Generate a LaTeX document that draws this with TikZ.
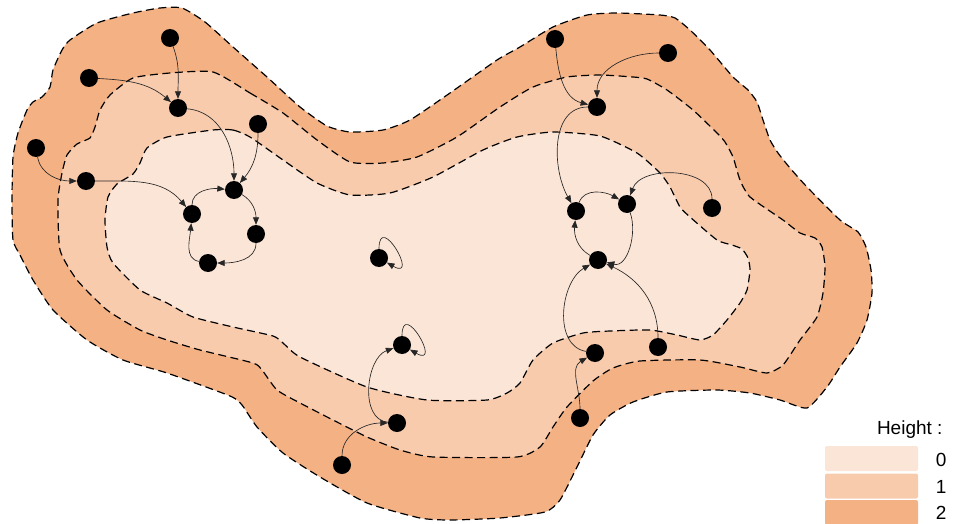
\documentclass[tikz,border=0pt]{standalone}
\usepackage{fontspec}
\setmainfont{Liberation Sans}
\usetikzlibrary{arrows.meta}
\definecolor{peach}{RGB}{251,229,214}
\definecolor{apricot}{RGB}{248,203,173}
\definecolor{copper}{RGB}{244,177,131}
\tikzset{
  >={Triangle[length=7.5pt,width=6pt]},
  dot/.style={circle,fill=black,inner sep=0pt,minimum size=18pt},
  flow/.style={->,line width=0.65pt,draw=black!85},
  self/.style={flow,out=90,in=-30,min distance=38pt},
  zone/.style={fill=#1,draw=black,line width=1.2pt,dash pattern=on 8pt off 4.5pt},
  key/.style={fill=#1,rounded corners=2pt,minimum width=93pt,minimum height=25pt,inner sep=0pt},
  lbl/.style={font=\fontsize{19}{19}\selectfont,anchor=east},
}

\begin{document}
\begin{tikzpicture}[x=1pt,y=1pt]
  \useasboundingbox (0,0) rectangle (955,-524);
  % height zones
  \draw[zone=copper] plot[smooth cycle,tension=0.35] coordinates {
    (182,-8) (205,-22) (233,-47) (267,-77) (300,-107) (327,-126) (350,-132) (383,-130)
    (410,-120) (450,-93) (497,-60) (520,-47) (553,-27) (587,-15) (617,-13) (660,-15)
    (675,-18) (690,-30) (710,-50) (733,-77) (748,-90) (757,-102) (763,-120) (770,-140)
    (778,-153) (790,-168) (807,-187) (840,-220) (858,-232) (866,-247) (871,-270) (872,-293)
    (867,-320) (857,-343) (840,-367) (827,-387) (807,-408) (780,-400) (750,-393) (717,-390)
    (667,-392) (633,-402) (610,-415) (593,-435) (577,-467) (560,-500) (545,-512) (500,-518)
    (450,-520) (420,-518) (367,-503) (320,-477) (283,-453) (257,-427) (242,-405) (230,-396)
    (167,-373) (123,-360) (87,-340) (53,-310) (33,-280) (20,-255) (13,-240) (12,-200)
    (13,-157) (18,-133) (27,-110) (33,-102) (42,-97) (50,-87) (53,-70) (62,-50)
    (70,-40) (97,-23) (133,-13) (160,-8)};
  \draw[zone=apricot] plot[smooth cycle,tension=0.35] coordinates {
    (213,-72) (250,-93) (283,-113) (317,-140) (350,-162) (383,-163) (417,-157) (457,-137)
    (500,-107) (533,-87) (567,-77) (600,-75) (633,-77) (647,-79) (667,-90) (693,-110)
    (717,-133) (725,-142) (733,-157) (740,-180) (750,-197) (783,-220) (800,-233) (815,-238)
    (822,-247) (825,-267) (823,-293) (817,-317) (800,-340) (783,-365) (767,-373) (740,-367)
    (700,-360) (640,-361) (613,-368) (593,-381) (567,-407) (553,-427) (540,-447) (517,-457)
    (433,-457) (400,-450) (367,-437) (333,-420) (300,-403) (277,-390) (262,-370) (253,-363)
    (200,-350) (167,-340) (140,-330) (107,-310) (77,-280) (60,-250) (58,-200) (62,-173)
    (67,-155) (77,-144) (90,-138) (95,-127) (100,-110) (110,-95) (133,-78) (170,-73)};
  \draw[zone=peach] plot[smooth cycle,tension=0.35] coordinates {
    (213,-130) (233,-130) (250,-137) (283,-160) (317,-183) (350,-195) (390,-193) (433,-177)
    (483,-150) (517,-137) (553,-132) (600,-136) (637,-153) (660,-173) (670,-187) (680,-207)
    (690,-217) (717,-240) (732,-245) (742,-249) (748,-258) (750,-270) (747,-290) (740,-303)
    (727,-320) (713,-335) (700,-340) (677,-335) (650,-330) (610,-331) (583,-333) (553,-343)
    (533,-360) (520,-383) (507,-393) (487,-400) (427,-400) (367,-387) (300,-357) (283,-343)
    (273,-336) (233,-327) (193,-317) (167,-303) (140,-290) (113,-263) (107,-247) (105,-220)
    (108,-197) (117,-184) (133,-174) (140,-163) (147,-148) (167,-137)};
  % cells
  \foreach \n/\x/\y in {a1/170/38,a2/89/78,a3/178/108,a4/258/124,a5/36/148,a6/86/181,
      a7/234/190,a8/192/214,a9/256/234,a10/208/263,
      c1/379/258,c2/402/345,c3/397/423,c4/342/465,
      r1/555/39,r2/668/53,r3/597/107,r4/576/211,r5/627/204,r6/712/208,
      r7/598/260,r8/595/353,r9/658/347,r10/580/418}
    \node[dot] (\n) at (\x,-\y) {};
  % left basin
  \draw[flow] (a1) to[out=-70,in=90] (a3);
  \draw[flow] (a2) to[out=-3,in=140] (a3);
  \draw[flow] (a3) to[out=-5,in=90] (a7);
  \draw[flow] (a4) to[out=-90,in=50] (a7);
  \draw[flow] (a5) to[out=-80,in=180] (a6);
  \draw[flow] (a6) to[out=0,in=130] (a8);
  \draw[flow] (a8) to[out=90,in=175] (a7);
  \draw[flow] (a7) to[out=-30,in=90] (a9);
  \draw[flow] (a9) to[out=-90,in=0] (a10);
  \draw[flow] (a10) to[out=170,in=-95] (a8);
  % middle
  \draw[self] (c1) to (c1);
  \draw[self] (c2) to (c2);
  \draw[flow] (c3) to[out=175,in=200] (c2);
  \draw[flow] (c4) to[out=90,in=180] (c3);
  % right basin
  \draw[flow] (r1) to[out=-85,in=165] (r3);
  \draw[flow] (r2) to[out=180,in=90] (r3);
  \draw[flow] (r3) to[out=180,in=120] (r4);
  \draw[flow] (r4) to[out=70,in=150] (r5);
  \draw[flow] (r6) to[out=90,in=70] (r5);
  \draw[flow] (r5) to[out=-70,in=-15] (r7);
  \draw[flow] (r7) to[out=150,in=-95] (r4);
  \draw[flow] (r8) to[out=170,in=210] (r7);
  \draw[flow] (r9) to[out=90,in=-25] (r7);
  \draw[flow] (r10) to[out=90,in=210] (r8);
  % legend
  \node[lbl] (head) at (946,-430) {Height :};
  \node[key=peach] (k0) at (871.5,-458.5) {};
  \node[key=apricot] (k1) at (871.5,-486) {};
  \node[key=copper] (k2) at (871.5,-512.5) {};
  \node[lbl] at (950,-460) {0};
  \node[lbl] at (950,-487) {1};
  \node[lbl] at (950,-513) {2};
\end{tikzpicture}
\end{document}
